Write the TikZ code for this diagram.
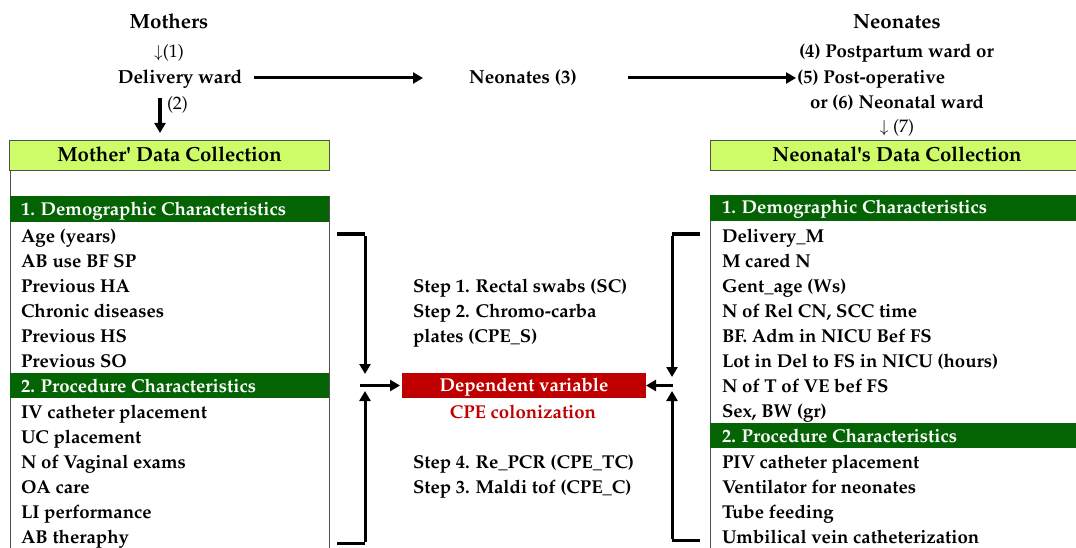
\documentclass[tikz,border=0pt]{standalone}
\usepackage[T1]{fontenc}
\renewcommand{\rmdefault}{ppl}
\usetikzlibrary{arrows.meta}
\definecolor{limeg}{RGB}{206,252,104}
\definecolor{dgreen}{RGB}{4,100,4}
\definecolor{dred}{RGB}{192,0,0}
\definecolor{bordg}{RGB}{80,80,80}
\begin{document}
\begin{tikzpicture}[x=1pt,y=-1pt,
  every node/.style={inner sep=0pt,outer sep=0pt},
  body/.style={font=\fontsize{18.6}{21}\selectfont\bfseries,anchor=west,text height=16pt,text depth=4pt},
  title/.style={font=\fontsize{18.9}{22}\selectfont\bfseries,text height=16pt,text depth=4pt},
  bigtitle/.style={font=\fontsize{20.5}{23}\selectfont\bfseries,text height=17pt,text depth=4pt},
  num/.style={font=\fontsize{18}{21}\selectfont,text height=16pt,text depth=4pt},
  hdr/.style={fill=limeg,draw=bordg,line width=0.8pt,font=\fontsize{20.4}{23}\selectfont\bfseries,text height=17pt,text depth=4pt},
  gbar/.style={fill=dgreen},
  wtxt/.style={body,text=white},
  arr/.style={line width=3pt,-{Triangle[length=10pt,width=11pt]}},
  brk/.style={line width=3pt},
  bord/.style={draw=bordg,line width=0.8pt}]
\useasboundingbox (0,0) rectangle (1076,548);
% top flow, left
\node[bigtitle] (mothers) at (169,22) {Mothers};
\node[num] (n1) at (169,52) {$\downarrow$(1)};
\node[title] (dw) at (180,78) {Delivery ward};
\coordinate (a2s) at (160,98);
\coordinate (a2e) at (160,133);
\draw[arr,line width=3.6pt] (a2s) -- (a2e);
\node[num,anchor=west] (n2) at (167,104) {(2)};
% top flow, middle
\node[title] (neo3) at (523,78) {Neonates (3)};
\coordinate (h1s) at (254,78);
\coordinate (h1e) at (423,78);
\draw[arr] (h1s) -- (h1e);
\coordinate (h2s) at (628,78);
\coordinate (h2e) at (796,78);
\draw[arr] (h2s) -- (h2e);
% top flow, right
\node[bigtitle] (neonates) at (897,22) {Neonates};
\node[body] (w4) at (799,52) {(4) Postpartum ward or};
\node[body] (w5) at (797,78) {(5) Post-operative};
\node[body] (w6) at (810,103) {or (6) Neonatal ward};
\node[num] (n7) at (897,127) {$\downarrow$ (7)};
% headers
\node[hdr,minimum width=320pt,minimum height=30pt] (mhdr) at (169.5,155) {Mother\textquotesingle\ Data Collection};
\node[hdr,minimum width=374pt,minimum height=30pt] (nhdr) at (897,155) {Neonatal\textquotesingle s Data Collection};
% left panel
\draw[bord] (10,170) -- (10,548);
\draw[bord] (329,196) -- (329,548);
\fill[gbar] (10,196) rectangle (329,222);
\fill[gbar] (10,373) rectangle (329,398);
\node[wtxt] (ld1) at (21,209) {1. Demographic Characteristics};
\node[body] (l1) at (21,236) {Age (years)};
\node[body] (l2) at (21,261) {AB use BF SP};
\node[body] (l3) at (21,286) {Previous HA};
\node[body] (l4) at (21,311) {Chronic diseases};
\node[body] (l5) at (21,336) {Previous HS};
\node[body] (l6) at (21,361) {Previous SO};
\node[wtxt] (ld2) at (21,386) {2. Procedure Characteristics};
\node[body] (l7) at (21,412) {IV catheter placement};
\node[body] (l8) at (21,437) {UC placement};
\node[body] (l9) at (21,462) {N of Vaginal exams};
\node[body] (l10) at (21,487) {OA care};
\node[body] (l11) at (21,512) {LI performance};
\node[body] (l12) at (21,537) {AB theraphy};
% right panel
\draw[bord] (710,195) -- (710,548);
\fill[gbar] (710,195) rectangle (1084,221);
\fill[gbar] (710,423) rectangle (1084,448);
\node[wtxt] (rd1) at (722,208) {1. Demographic Characteristics};
\node[body] (r1) at (722,236) {Delivery\_M};
\node[body] (r2) at (722,261) {M cared N};
\node[body] (r3) at (722,286) {Gent\_age (Ws)};
\node[body] (r4) at (722,311) {N of Rel CN, SCC time};
\node[body] (r5) at (722,336) {BF. Adm in NICU Bef FS};
\node[body] (r6) at (722,361) {Lot in Del to FS in NICU (hours)};
\node[body] (r7) at (722,386) {N of T of VE bef FS};
\node[body] (r8) at (722,411) {Sex, BW (gr)};
\node[wtxt] (rd2) at (722,436) {2. Procedure Characteristics};
\node[body] (r9) at (722,462) {PIV catheter placement};
\node[body] (r10) at (722,487) {Ventilator for neonates};
\node[body] (r11) at (722,512) {Tube feeding};
\node[body] (r12) at (722,537) {Umbilical vein catheterization};
% center
\node[body] (s1) at (413,286) {Step 1. Rectal swabs (SC)};
\node[body] (s2) at (413,311) {Step 2. Chromo-carba};
\node[body] (s2b) at (413,336) {plates (CPE\_S)};
\node[body] (s4) at (413,462) {Step 4. Re\_PCR (CPE\_TC)};
\node[body] (s3) at (413,487) {Step 3. Maldi tof (CPE\_C)};
\node[fill=dred,text=white,minimum width=244pt,minimum height=25pt,text height=16pt,text depth=4pt,font=\fontsize{18.6}{21}\selectfont\bfseries] (dep) at (524,385.5) {Dependent variable};
\node[body,anchor=center,text=dred] (cpe) at (523,412) {CPE colonization};
% brackets left
\coordinate (lt0) at (337,234);
\coordinate (lt1) at (365,234);
\coordinate (lt2) at (365,374);
\draw[brk] (lt0) -- (lt1);
\draw[arr] ([yshift=-1.5pt]lt1) -- (lt2);
\coordinate (lb0) at (337,543);
\coordinate (lb1) at (365,543);
\coordinate (lb2) at (365,391);
\draw[brk] (lb0) -- (lb1);
\draw[arr] ([yshift=1.5pt]lb1) -- (lb2);
\coordinate (lm) at (360,385.5);
\draw[arr] (lm) -- ([xshift=-2pt]dep.west);
% brackets right
\coordinate (rt0) at (700,234);
\coordinate (rt1) at (672,234);
\coordinate (rt2) at (672,377);
\draw[brk] (rt0) -- (rt1);
\draw[arr] ([yshift=-1.5pt]rt1) -- (rt2);
\coordinate (rb0) at (700,540);
\coordinate (rb1) at (672,540);
\coordinate (rb2) at (672,391);
\draw[brk] (rb0) -- (rb1);
\draw[arr] ([yshift=1.5pt]rb1) -- (rb2);
\coordinate (rm) at (673,385.5);
\draw[arr] (rm) -- (dep.east);
\end{tikzpicture}
\end{document}
